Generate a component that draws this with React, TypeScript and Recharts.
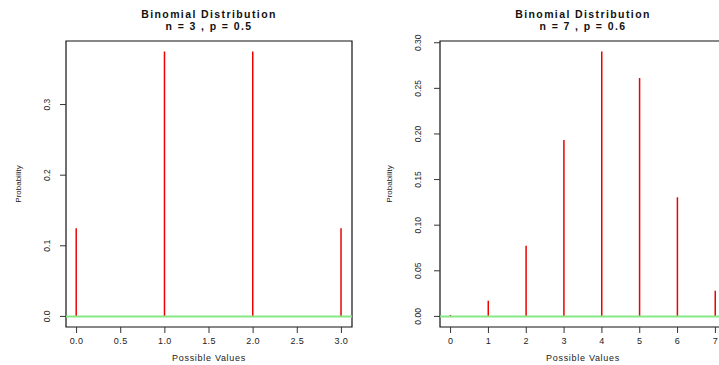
import React from "react";
import {
  ComposedChart,
  Bar,
  XAxis,
  YAxis,
  ReferenceLine,
  ReferenceArea,
} from "recharts";

// left panel: n = 3, p = 0.5
const valuesA = [0, 1, 2, 3];
const probsA = [0.125, 0.375, 0.375, 0.125];
const xTicksA = [0, 0.5, 1, 1.5, 2, 2.5, 3];
const yTicksA = [0, 0.1, 0.2, 0.3];

// right panel: n = 7, p = 0.6
const valuesB = [0, 1, 2, 3, 4, 5, 6, 7];
const probsB = [0.0016, 0.0172, 0.0774, 0.1935, 0.2903, 0.2613, 0.1306, 0.028];
const xTicksB = [0, 1, 2, 3, 4, 5, 6, 7];
const yTicksB = [0, 0.05, 0.1, 0.15, 0.2, 0.25, 0.3];

const FONT = "'Liberation Sans', Arial, Helvetica, sans-serif";

type PanelProps = {
  title: string[];
  values: number[];
  probs: number[];
  xTicks: number[];
  yTicks: number[];
  xDigits: number;
  yDigits: number;
  left: number;
  width: number;
  yAxisWidth: number;
  marginRight: number;
  yTickGap: number;
  yLabelX: number;
};

const Panel = (p: PanelProps) => {
  const data = p.values.map((k, i) => ({ k, prob: p.probs[i] }));
  const xMin = Math.min(...p.values);
  const xMax = Math.max(...p.values);
  const xPad = (xMax - xMin) * 0.04;
  const yMax = Math.max(...p.probs);
  const xDom: [number, number] = [xMin - xPad, xMax + xPad];
  const yDom: [number, number] = [-yMax * 0.04, yMax * 1.04];
  const plotCenter = p.yAxisWidth + (p.width - p.yAxisWidth - p.marginRight) / 2;

  return (
    <div style={{ position: "absolute", left: p.left, top: 0, width: p.width, height: 365 }}>
      <div
        style={{
          position: "absolute",
          left: plotCenter - 100,
          width: 200,
          top: 9,
          textAlign: "center",
          fontFamily: FONT,
          fontWeight: "bold",
          fontSize: 10.5,
          letterSpacing: 1.4,
          lineHeight: "11.5px",
          color: "#111",
        }}
      >
        {p.title.map((t) => (
          <div key={t}>{t}</div>
        ))}
      </div>
      <ComposedChart
        width={p.width}
        height={365}
        data={data}
        margin={{ top: 41, right: p.marginRight, bottom: 0, left: 0 }}
      >
        <XAxis
          type="number"
          dataKey="k"
          domain={xDom}
          ticks={p.xTicks}
          interval={0}
          height={38}
          axisLine={false}
          tickSize={6}
          tickMargin={8}
          tickLine={{ stroke: "#333" }}
          tick={(t: any) => (
            <text
              x={t.x}
              y={t.y}
              textAnchor="middle"
              dominantBaseline="central"
              fontFamily={FONT}
              fontSize={9}
              letterSpacing={0.4}
              fill="#222"
            >
              {Number(t.payload.value).toFixed(p.xDigits)}
            </text>
          )}
          label={(l: any) => (
            <text
              x={l.viewBox.x + l.viewBox.width / 2}
              y={l.viewBox.y + 31}
              textAnchor="middle"
              dominantBaseline="central"
              fontFamily={FONT}
              fontSize={9}
              letterSpacing={0.7}
              fill="#222"
            >
              Possible Values
            </text>
          )}
        />
        <YAxis
          type="number"
          domain={yDom}
          ticks={p.yTicks}
          interval={0}
          width={p.yAxisWidth}
          axisLine={false}
          tickSize={6}
          tickMargin={p.yTickGap}
          tickLine={{ stroke: "#333" }}
          tick={(t: any) => (
            <text
              x={t.x}
              y={t.y}
              transform={`rotate(-90, ${t.x}, ${t.y})`}
              textAnchor="middle"
              dominantBaseline="central"
              fontFamily={FONT}
              fontSize={8.5}
              fill="#222"
            >
              {Number(t.payload.value).toFixed(p.yDigits)}
            </text>
          )}
          label={(l: any) => {
            const cx = l.viewBox.x + p.yLabelX;
            const cy = l.viewBox.y + l.viewBox.height / 2;
            return (
              <text
                x={cx}
                y={cy}
                transform={`rotate(-90, ${cx}, ${cy})`}
                textAnchor="middle"
                dominantBaseline="central"
                fontFamily={FONT}
                fontSize={8}
                fill="#222"
              >
                Probability
              </text>
            );
          }}
        />
        <Bar dataKey="prob" fill="#ee0000" barSize={1.5} isAnimationActive={false} />
        <ReferenceLine y={0} stroke="#86e886" strokeWidth={2} />
        <ReferenceArea
          x1={xDom[0]}
          x2={xDom[1]}
          y1={yDom[0]}
          y2={yDom[1]}
          fill="none"
          fillOpacity={0}
          stroke="#111"
          strokeWidth={1.2}
          ifOverflow="visible"
        />
      </ComposedChart>
    </div>
  );
};

export default function App() {
  return (
    <div
      style={{
        position: "absolute",
        left: 0,
        top: 0,
        width: 719,
        height: 365,
        overflow: "hidden",
        background: "#fff",
      }}
    >
      <Panel
        title={["Binomial Distribution", "n = 3 , p = 0.5"]}
        values={valuesA}
        probs={probsA}
        xTicks={xTicksA}
        yTicks={yTicksA}
        xDigits={1}
        yDigits={1}
        left={0}
        width={360}
        yAxisWidth={66}
        marginRight={8}
        yTickGap={13}
        yLabelX={18}
      />
      <Panel
        title={["Binomial Distribution", "n = 7 , p = 0.6"]}
        values={valuesB}
        probs={probsB}
        xTicks={xTicksB}
        yTicks={yTicksB}
        xDigits={0}
        yDigits={2}
        left={360}
        width={370}
        yAxisWidth={80}
        marginRight={4}
        yTickGap={16}
        yLabelX={29}
      />
    </div>
  );
}
